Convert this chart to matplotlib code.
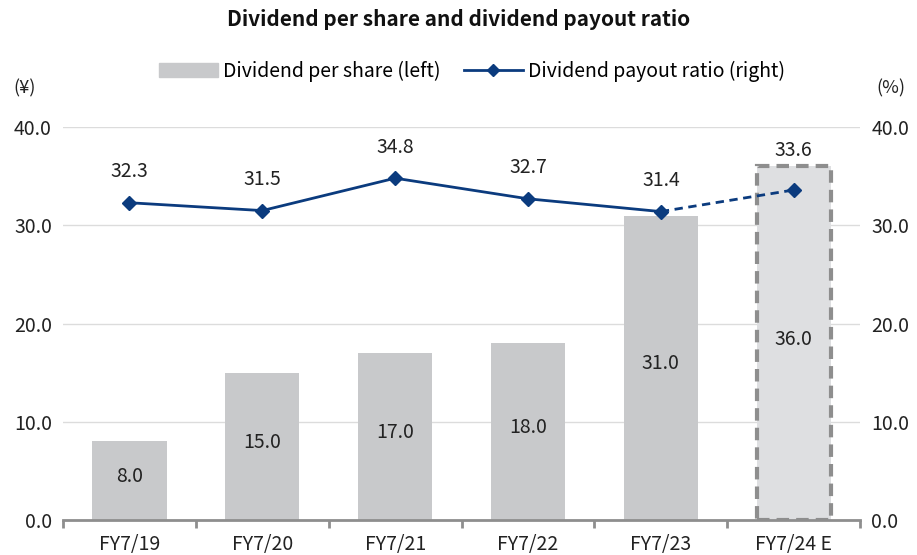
import matplotlib.pyplot as plt
from matplotlib.lines import Line2D
from matplotlib.patches import Patch

plt.rcParams['font.family'] = ['Noto Sans CJK JP', 'DejaVu Sans']

years = ['FY7/19', 'FY7/20', 'FY7/21', 'FY7/22', 'FY7/23', 'FY7/24 E']
dps = [8.0, 15.0, 17.0, 18.0, 31.0, 36.0]
payout = [32.3, 31.5, 34.8, 32.7, 31.4, 33.6]

bar_col = '#C8C9CB'
est_col = '#DEDFE1'
line_col = '#0B3B7E'

fig = plt.figure(figsize=(9.17, 5.55), dpi=100)
ax = fig.add_axes([0.0687, 0.063, 0.8693, 0.708])
ax2 = ax.twinx()

x = list(range(len(years)))
cols = [bar_col] * (len(years) - 1) + [est_col]
bars = ax.bar(x, dps, width=0.56, color=cols, zorder=2)
bars[-1].set_edgecolor('#8E8E8E')
bars[-1].set_linewidth(3)
bars[-1].set_linestyle((0, (3, 1.7)))

for xi, v in zip(x, dps):
    ax.text(xi, v / 2 + 0.4, f'{v:.1f}', ha='center', va='center', fontsize=14, color='#222222', zorder=3)

ax2.plot(x[:-1], payout[:-1], color=line_col, lw=2, marker='D', ms=7)
ax2.plot(x[-2:], payout[-2:], color=line_col, lw=2, ls=(0, (3, 2)))
ax2.plot(x[-1], payout[-1], color=line_col, marker='D', ms=7, ls='none')
for xi, v, b in zip(x, payout, dps):
    y = v + 2.1
    if y < b + 0.5 and b > v:
        y = b + 0.5
    ax2.text(xi, y, f'{v:.1f}', ha='center', va='bottom', fontsize=14, color='#222222')

for a in (ax, ax2):
    a.set_ylim(0, 40)
    a.set_yticks([0, 10, 20, 30, 40])
    a.set_yticklabels([f'{t:.1f}' for t in [0, 10, 20, 30, 40]], fontsize=14)
    a.tick_params(axis='y', length=0, pad=8, colors='#222222')
    for s in ['top', 'left', 'right', 'bottom']:
        a.spines[s].set_visible(False)

ax.set_xlim(-0.5, len(years) - 0.5)
ax.yaxis.grid(True, color='#DCDCDC', lw=1, zorder=0)
ax.set_axisbelow(True)
ax.spines['bottom'].set_visible(True)
ax.spines['bottom'].set_color('#8E8E8E')
ax.spines['bottom'].set_linewidth(2)
ax.set_xticks(x)
ax.set_xticklabels(years, fontsize=14, color='#222222')
ax.tick_params(axis='x', length=0, pad=10)
ax.set_xticks([i - 0.5 for i in range(len(years) + 1)], minor=True)
ax.tick_params(axis='x', which='minor', length=6, width=2, color='#8E8E8E')

fig.text(0.5, 0.965, 'Dividend per share and dividend payout ratio', ha='center', va='center',
         fontsize=15, fontweight='bold', color='#111111')
fig.text(0.027, 0.84, '(¥)', ha='center', va='center', fontsize=13, color='#222222')
fig.text(0.972, 0.84, '(%)', ha='center', va='center', fontsize=13, color='#222222')

handles = [Patch(color=bar_col), Line2D([], [], color=line_col, lw=2, marker='D', ms=6)]
labels = ['Dividend per share (left)', 'Dividend payout ratio (right)']
fig.legend(handles, labels, loc='center', bbox_to_anchor=(0.515, 0.872), ncol=2, frameon=False,
           fontsize=14, handlelength=3, columnspacing=1.2, handletextpad=0.3)

fig.savefig('out.png', dpi=100)
